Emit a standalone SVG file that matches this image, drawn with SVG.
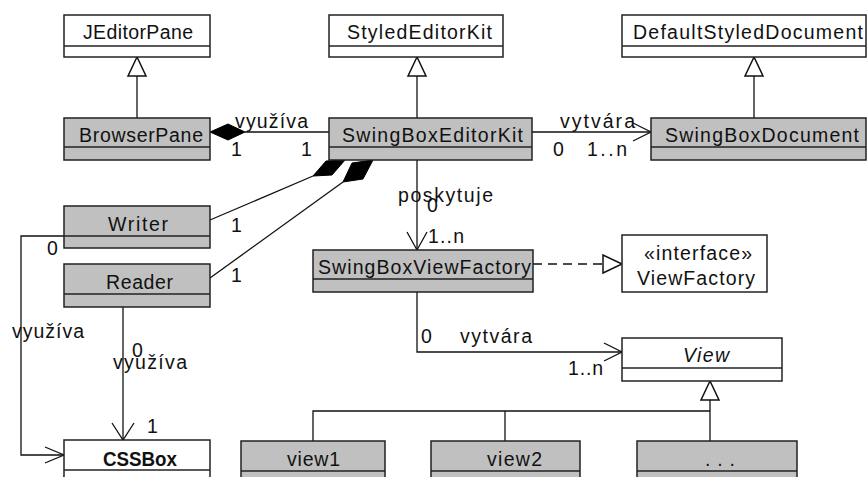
<svg xmlns="http://www.w3.org/2000/svg" width="867" height="477" viewBox="0 0 867 477">
<style>
  text { font-family: "Liberation Sans", Arial, sans-serif; font-size: 19.5px; fill: #111; }
  .cls { fill: #fff; stroke: #222; stroke-width: 1.5; }
  .sub { fill: #c0c0c0; stroke: #222; stroke-width: 1.5; }
  .div { stroke: #222; stroke-width: 1.5; fill: none; }
  .ln { stroke: #111; stroke-width: 1.3; fill: none; }
  .dash { stroke: #111; stroke-width: 1.3; fill: none; stroke-dasharray: 9 6; }
  .tri { fill: #fff; stroke: #111; stroke-width: 1.5; }
  .dia { fill: #000; stroke: #000; stroke-width: 1; }
</style>
<rect width="867" height="477" fill="#fff"/>

<g id="connectors">
  <!-- generalizations -->
  <line class="ln" x1="137" y1="76" x2="137" y2="118"/>
  <polygon class="tri" points="137,57 128,76 146,76"/>
  <line class="ln" x1="417" y1="76" x2="417" y2="118"/>
  <polygon class="tri" points="417,57 408,76 426,76"/>
  <line class="ln" x1="754" y1="76" x2="754" y2="118"/>
  <polygon class="tri" points="754,57 745,76 763,76"/>

  <!-- BrowserPane - SwingBoxEditorKit -->
  <line class="ln" x1="245" y1="132" x2="329" y2="132"/>
  <polygon class="dia" points="210,132 228,124 245,132 228,140"/>
  <text x="235" y="128" textLength="73" lengthAdjust="spacing">využíva</text>
  <text x="231" y="156">1</text>
  <text x="301" y="156">1</text>

  <!-- SwingBoxEditorKit -> SwingBoxDocument -->
  <line class="ln" x1="532" y1="132" x2="651" y2="132"/>
  <polyline class="ln" points="633,123 651,132 633,141"/>
  <text x="560" y="128" textLength="75" lengthAdjust="spacing">vytvára</text>
  <text x="553" y="156">0</text>
  <text x="587" y="156" textLength="40" lengthAdjust="spacing">1..n</text>

  <!-- Writer composition -->
  <line class="ln" x1="210" y1="220" x2="313" y2="176"/>
  <polygon class="dia" points="345,160 326,161 313,176 332,175"/>
  <text x="231" y="232">1</text>
  <!-- Reader composition -->
  <line class="ln" x1="210" y1="278" x2="343" y2="182"/>
  <polygon class="dia" points="373,160 352,163 343,182 363,179"/>
  <text x="231" y="282">1</text>

  <!-- poskytuje -->
  <line class="ln" x1="417" y1="160" x2="417" y2="250"/>
  <polyline class="ln" points="407,232 417,250 427,232"/>
  <text x="398" y="202" textLength="95" lengthAdjust="spacing">poskytuje</text>
  <text x="427" y="212">0</text>
  <text x="428" y="243" textLength="36" lengthAdjust="spacing">1..n</text>

  <!-- realization -->
  <line class="dash" x1="533" y1="264" x2="603" y2="264"/>
  <polygon class="tri" points="622,264 603,255 603,273"/>

  <!-- SwingBoxViewFactory -> View -->
  <polyline class="ln" points="417,292 417,352 622,352"/>
  <polyline class="ln" points="604,343 622,352 604,361"/>
  <text x="421" y="343">0</text>
  <text x="460" y="343" textLength="72" lengthAdjust="spacing">vytvára</text>
  <text x="568" y="375" textLength="35" lengthAdjust="spacing">1..n</text>

  <!-- View generalization tree -->
  <polygon class="tri" points="710,381 701,400 719,400"/>
  <line class="ln" x1="710" y1="400" x2="710" y2="441"/>
  <polyline class="ln" points="313,441 313,411 710,411"/>
  <line class="ln" x1="505" y1="411" x2="505" y2="441"/>

  <!-- Writer -> CSSBox -->
  <polyline class="ln" points="64,236 21,236 21,455 64,455"/>
  <polyline class="ln" points="45,447 64,455 45,463"/>
  <text x="47" y="255">0</text>
  <text x="12" y="338" textLength="72" lengthAdjust="spacing">využíva</text>
  <text x="62" y="477">1</text>

  <!-- Reader -> CSSBox -->
  <line class="ln" x1="123" y1="307" x2="123" y2="440"/>
  <polyline class="ln" points="112,423 123,440 134,423"/>
  <text x="132" y="357">0</text>
  <text x="113" y="369" textLength="74" lengthAdjust="spacing">využíva</text>
  <text x="147" y="433">1</text>
</g>

<g id="JEditorPane">
  <rect class="cls" x="64" y="15" width="146" height="42"/>
  <line class="div" x1="64" y1="46" x2="210" y2="46"/>
  <text x="83" y="39" textLength="110" lengthAdjust="spacing">JEditorPane</text>
</g>
<g id="StyledEditorKit">
  <rect class="cls" x="329" y="15" width="174" height="42"/>
  <line class="div" x1="329" y1="46" x2="503" y2="46"/>
  <text x="347" y="39" textLength="145" lengthAdjust="spacing">StyledEditorKit</text>
</g>
<g id="DefaultStyledDocument">
  <rect class="cls" x="622" y="15" width="244" height="42"/>
  <line class="div" x1="622" y1="46" x2="866" y2="46"/>
  <text x="633" y="39" textLength="230" lengthAdjust="spacing">DefaultStyledDocument</text>
</g>
<g id="BrowserPane">
  <rect class="sub" x="64" y="118" width="146" height="42"/>
  <line class="div" x1="64" y1="147" x2="210" y2="147"/>
  <text x="79" y="142" textLength="124" lengthAdjust="spacing">BrowserPane</text>
</g>
<g id="SwingBoxEditorKit">
  <rect class="sub" x="329" y="118" width="203" height="42"/>
  <line class="div" x1="329" y1="147" x2="532" y2="147"/>
  <text x="342" y="142" textLength="181" lengthAdjust="spacing">SwingBoxEditorKit</text>
</g>
<g id="SwingBoxDocument">
  <rect class="sub" x="651" y="118" width="215" height="42"/>
  <line class="div" x1="651" y1="147" x2="866" y2="147"/>
  <text x="665" y="142" textLength="194" lengthAdjust="spacing">SwingBoxDocument</text>
</g>
<g id="Writer">
  <rect class="sub" x="64" y="206" width="146" height="42"/>
  <line class="div" x1="64" y1="236" x2="210" y2="236"/>
  <text x="108" y="231" textLength="60" lengthAdjust="spacing">Writer</text>
</g>
<g id="Reader">
  <rect class="sub" x="64" y="264" width="146" height="43"/>
  <line class="div" x1="64" y1="294" x2="210" y2="294"/>
  <text x="106" y="289" textLength="67" lengthAdjust="spacing">Reader</text>
</g>
<g id="SwingBoxViewFactory">
  <rect class="sub" x="313" y="250" width="220" height="42"/>
  <line class="div" x1="313" y1="279" x2="533" y2="279"/>
  <text x="318" y="274" textLength="213" lengthAdjust="spacing">SwingBoxViewFactory</text>
</g>
<g id="ViewFactory">
  <rect class="cls" x="622" y="235" width="145" height="57"/>
  <text x="644" y="260" textLength="108" lengthAdjust="spacing">«interface»</text>
  <text x="637" y="285" textLength="118" lengthAdjust="spacing">ViewFactory</text>
</g>
<g id="View">
  <rect class="cls" x="622" y="338" width="160" height="43"/>
  <line class="div" x1="622" y1="368" x2="782" y2="368"/>
  <text x="683" y="362" font-style="italic" textLength="46" lengthAdjust="spacing">View</text>
</g>
<g id="CSSBox">
  <rect class="cls" x="64" y="440" width="146" height="50"/>
  <line class="div" x1="64" y1="470" x2="210" y2="470"/>
  <text x="103" y="466" font-weight="bold" textLength="74" lengthAdjust="spacingAndGlyphs">CSSBox</text>
</g>
<g id="view1">
  <rect class="sub" x="241" y="441" width="144" height="50"/>
  <line class="div" x1="241" y1="471" x2="385" y2="471"/>
  <text x="287" y="466" textLength="53" lengthAdjust="spacing">view1</text>
</g>
<g id="view2">
  <rect class="sub" x="431" y="441" width="149" height="50"/>
  <line class="div" x1="431" y1="471" x2="580" y2="471"/>
  <text x="487" y="466" textLength="55" lengthAdjust="spacing">view2</text>
</g>
<g id="more">
  <rect class="sub" x="637" y="441" width="160" height="50"/>
  <line class="div" x1="637" y1="471" x2="797" y2="471"/>
  <text x="705" y="466" textLength="30" lengthAdjust="spacing">. . .</text>
</g>
</svg>
